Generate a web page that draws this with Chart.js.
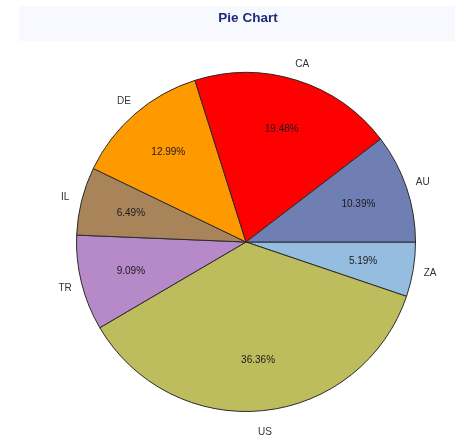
<!DOCTYPE html>
<html>
<head>
<meta charset="utf-8">
<script src="https://cdn.jsdelivr.net/npm/chart.js@4/dist/chart.umd.min.js"></script>
<style>
  html, body { margin: 0; padding: 0; background: #ffffff; }
  #wrap { width: 456px; height: 437px; position: relative; }
</style>
</head>
<body>
<div id="wrap"><canvas id="pieChart" width="456" height="437"></canvas></div>
<script>
// Datos del gráfico (orden antihorario desde las 3 en punto)
const categories = ['AU', 'CA', 'DE', 'IL', 'TR', 'US', 'ZA'];
const counts = [8, 15, 10, 5, 7, 28, 4];
const colors = ['#6f7eb3', '#ff0000', '#ff9900', '#a9845b', '#b689c9', '#bdbd5d', '#94bde0'];
const chartTitle = 'Pie Chart';

// Chart.js dibuja en sentido horario: invertimos el orden
const labelsCW = categories.slice().reverse();
const countsCW = counts.slice().reverse();
const colorsCW = colors.slice().reverse();
const total = counts.reduce((a, b) => a + b, 0);

const FONT = 'Arial, "Liberation Sans", sans-serif';

// Fondo y texto del título
const titlePlugin = {
    id: 'titleBox',
    beforeDraw(chart) {
        const ctx = chart.ctx;
        ctx.save();
        ctx.fillStyle = '#f8f9fe';
        ctx.fillRect(19, 6, 436, 35);
        ctx.fillStyle = '#1c2a7e';
        ctx.font = 'bold 13.5px ' + FONT;
        ctx.textAlign = 'center';
        ctx.textBaseline = 'middle';
        ctx.fillText(chartTitle, 248, 18);
        ctx.restore();
    }
};

// Etiquetas de categoría (fuera) y porcentaje (dentro)
const sliceLabels = {
    id: 'sliceLabels',
    afterDatasetsDraw(chart) {
        const ctx = chart.ctx;
        const meta = chart.getDatasetMeta(0);
        ctx.save();
        ctx.textAlign = 'center';
        ctx.textBaseline = 'middle';
        ctx.font = '10px ' + FONT;
        meta.data.forEach((arc, i) => {
            const p = arc.getProps(['x', 'y', 'startAngle', 'endAngle', 'outerRadius'], true);
            const mid = (p.startAngle + p.endAngle) / 2;
            const pct = (countsCW[i] / total * 100).toFixed(2) + '%';
            const rIn = p.outerRadius * 0.7;
            ctx.fillStyle = '#1a1a1a';
            ctx.fillText(pct, p.x + Math.cos(mid) * rIn, p.y + Math.sin(mid) * rIn);
            const rOut = p.outerRadius + 17;
            const dy = Math.max(0, Math.sin(mid)) * 5;
            ctx.fillStyle = '#333333';
            ctx.fillText(labelsCW[i], p.x + Math.cos(mid) * rOut, p.y + Math.sin(mid) * rOut + dy);
        });
        ctx.restore();
    }
};

function initChart() {
    const canvas = document.getElementById('pieChart');
    new Chart(canvas.getContext('2d'), {
        type: 'pie',
        data: {
            labels: labelsCW,
            datasets: [{
                data: countsCW,
                backgroundColor: colorsCW,
                borderColor: '#2b2b2b',
                borderWidth: 1
            }]
        },
        options: {
            responsive: false,
            animation: false,
            rotation: 90,
            layout: { padding: { left: 76, right: 40, top: 72, bottom: 25 } },
            plugins: {
                legend: { display: false },
                tooltip: { enabled: false },
                title: { display: false }
            }
        },
        plugins: [titlePlugin, sliceLabels]
    });
}

document.addEventListener('DOMContentLoaded', initChart);
</script>
</body>
</html>
